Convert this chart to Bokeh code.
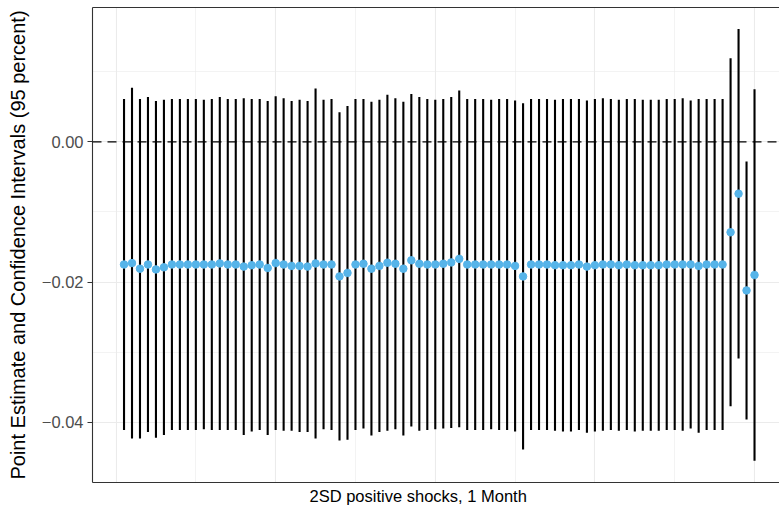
from bokeh.plotting import figure
from bokeh.models import Range1d, FixedTicker, LinearAxis, Span, ColumnDataSource, Title
from bokeh.embed import file_html
from bokeh.resources import INLINE

x_index = list(range(1, 81))
estimate = [
    -0.0175, -0.0173, -0.0181, -0.0175, -0.0182, -0.0179, -0.0175, -0.0175, -0.0175, -0.0175,
    -0.0175, -0.0175, -0.01735, -0.0175, -0.0175, -0.0178, -0.0176, -0.0175, -0.0180, -0.0173,
    -0.0175, -0.0177, -0.0177, -0.0178, -0.01735, -0.0175, -0.0175, -0.0192, -0.0187, -0.0175,
    -0.0174, -0.0181, -0.0177, -0.01725, -0.0174, -0.0181, -0.0169, -0.0174, -0.0175, -0.0175,
    -0.0174, -0.0172, -0.0167, -0.0175, -0.0175, -0.0175, -0.0175, -0.0175, -0.0175, -0.0177,
    -0.0192, -0.0175, -0.0175, -0.0175, -0.0176, -0.0176, -0.0176, -0.0175, -0.0178, -0.0176,
    -0.0175, -0.0175, -0.0176, -0.0175, -0.0176, -0.0176, -0.0176, -0.0176, -0.0175, -0.0175,
    -0.0175, -0.0175, -0.0177, -0.0175, -0.0175, -0.0175, -0.0129, -0.0074, -0.0212, -0.0190,
]
upper = [
    0.0061, 0.0077, 0.0061, 0.0064, 0.0058, 0.0060, 0.0061, 0.0061, 0.0061, 0.0061,
    0.0060, 0.0061, 0.0064, 0.0061, 0.0061, 0.0062, 0.0061, 0.0061, 0.0058, 0.0065,
    0.0062, 0.0058, 0.0060, 0.0058, 0.0076, 0.0060, 0.0061, 0.0042, 0.0051, 0.0061,
    0.0061, 0.0057, 0.0060, 0.0067, 0.0062, 0.0057, 0.0068, 0.0064, 0.0061, 0.0060,
    0.0061, 0.0064, 0.0073, 0.0061, 0.0061, 0.0061, 0.0060, 0.0061, 0.0061, 0.0059,
    0.0055, 0.0061, 0.0061, 0.0061, 0.0060, 0.0061, 0.0061, 0.0061, 0.0059, 0.0061,
    0.0062, 0.0061, 0.0060, 0.0061, 0.0061, 0.0060, 0.0060, 0.0060, 0.0061, 0.0061,
    0.0062, 0.0059, 0.0061, 0.0061, 0.0061, 0.0061, 0.0119, 0.0161, -0.0028, 0.0075,
]
lower = [
    -0.0411, -0.0423, -0.0423, -0.0414, -0.0422, -0.0418, -0.0411, -0.0411, -0.0411, -0.0411,
    -0.0410, -0.0411, -0.0411, -0.0411, -0.0411, -0.0418, -0.0413, -0.0411, -0.0418, -0.0411,
    -0.0412, -0.0412, -0.0414, -0.0414, -0.0423, -0.0410, -0.0411, -0.0426, -0.0425, -0.0411,
    -0.0409, -0.0419, -0.0414, -0.0412, -0.0410, -0.0419, -0.0406, -0.0412, -0.0411, -0.0410,
    -0.0409, -0.0408, -0.0407, -0.0411, -0.0411, -0.0411, -0.0410, -0.0411, -0.0411, -0.0413,
    -0.0439, -0.0411, -0.0411, -0.0411, -0.0412, -0.0413, -0.0413, -0.0411, -0.0415, -0.0413,
    -0.0412, -0.0411, -0.0412, -0.0411, -0.0413, -0.0412, -0.0412, -0.0412, -0.0411, -0.0411,
    -0.0412, -0.0409, -0.0415, -0.0411, -0.0411, -0.0411, -0.0377, -0.0309, -0.0396, -0.0455,
]
y_ticks = [-0.04, -0.02, 0.0]
y_tick_labels = ["\u22120.04", "\u22120.02", "0.00"]
y_minor_ticks = [-0.03, -0.01, 0.01]
x_ticks = [0, 20, 40, 60, 80]
x_minor_ticks = [10, 30, 50, 70]
x_title = "2SD positive shocks, 1 Month"
y_title = "Point Estimate and Confidence Intervals (95 percent)"

FONT = "Liberation Sans"

src = ColumnDataSource(dict(x=x_index, est=estimate, lo=lower, hi=upper))

p = figure(width=779, height=520, output_backend="svg", toolbar_location=None,
           x_range=Range1d(-2.95, 83.13), y_range=Range1d(-0.04859, 0.01915),
           min_border_left=92, min_border_right=0, min_border_top=7, min_border_bottom=38,
           background_fill_color="white", border_fill_color="white")
p.outline_line_color = None

# grids (own tickers; the axes carry no tick labels on x)
p.xgrid.ticker = FixedTicker(ticks=x_ticks, minor_ticks=x_minor_ticks)
p.ygrid.ticker = FixedTicker(ticks=y_ticks, minor_ticks=y_minor_ticks)
for g in (p.xgrid, p.ygrid):
    g.grid_line_color = "#EBEBEB"
    g.grid_line_width = 1.1
    g.minor_grid_line_color = "#EBEBEB"
    g.minor_grid_line_width = 0.6

# y axis
ya = p.yaxis[0]
ya.ticker = FixedTicker(ticks=y_ticks, minor_ticks=[])
ya.major_label_overrides = {t: l for t, l in zip(y_ticks, y_tick_labels)}
ya.major_label_text_font = FONT
ya.major_label_text_font_size = "16.5px"
ya.major_label_text_color = "#4D4D4D"
ya.major_tick_out = 5
ya.major_tick_in = 0
ya.minor_tick_out = 0
ya.minor_tick_in = 0
ya.major_tick_line_color = "#333333"
ya.axis_line_color = "#333333"
ya.axis_line_width = 1.1
ya.major_label_standoff = 4
ya.axis_label = y_title
ya.axis_label_text_font = FONT
ya.axis_label_text_font_size = "20px"
ya.axis_label_text_font_style = "normal"
ya.axis_label_text_color = "black"
ya.axis_label_standoff = 10

# x axis (bottom border only)
xa = p.xaxis[0]
xa.ticker = FixedTicker(ticks=[])
xa.major_label_standoff = 0
xa.major_tick_line_color = None
xa.minor_tick_line_color = None
xa.axis_line_color = "#333333"
xa.axis_line_width = 1.1

# x title, placed as in the reference (left-aligned with an offset)
p.add_layout(Title(text=x_title, align="left", offset=217, standoff=4,
                   text_font=FONT, text_font_size="16.5px", text_font_style="normal",
                   text_color="black"), "below")

# top border
top = LinearAxis(ticker=FixedTicker(ticks=[]), major_label_standoff=0,
                 major_tick_line_color=None, minor_tick_line_color=None,
                 axis_line_color="#333333", axis_line_width=1.1)
p.add_layout(top, "above")

p.add_layout(Span(location=0, dimension="width", line_color="black",
                  line_dash="9 6", line_width=1.3))

p.segment(x0="x", y0="lo", x1="x", y1="hi", source=src, line_color="black", line_width=2.1)
p.scatter(x="x", y="est", source=src, size=7.5, fill_color="#56B4E9", line_color="#56B4E9")

open("out.html", "w").write(file_html(p, INLINE))
